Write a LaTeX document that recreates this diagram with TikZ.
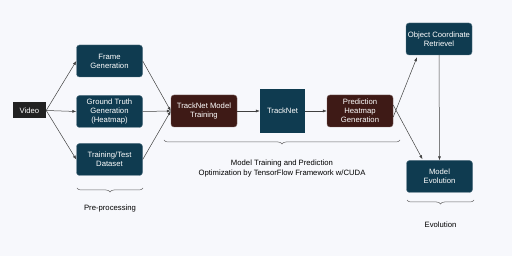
\documentclass[tikz,border=0pt]{standalone}
\usepackage{fontspec}
\setmainfont{Liberation Sans}
\usetikzlibrary{arrows.meta,decorations.pathreplacing}
\definecolor{bg}{HTML}{F7F8FC}
\definecolor{teal}{HTML}{0F3B50}
\definecolor{brown}{HTML}{3E1A16}
\definecolor{vid}{HTML}{222222}
\begin{document}
\begin{tikzpicture}[x=1pt,y=-1pt,
  txt/.style={font=\fontsize{7.7}{9.2}\selectfont,text=white,align=center,inner sep=0pt},
  tbox/.style={txt,fill=teal,draw=teal!70!white,line width=0.4pt,rounded corners=3pt,minimum width=66pt,minimum height=32pt},
  bbox/.style={txt,fill=brown,draw=brown!70!white,line width=0.4pt,rounded corners=3pt,minimum width=66pt,minimum height=32pt},
  conn/.style={draw=black!75,line width=0.5pt,-{Latex[length=4pt,width=3pt]}},
  brc/.style={draw=black!60,line width=0.5pt,decorate,decoration={brace,mirror,amplitude=4pt}},
  lab/.style={font=\fontsize{7.7}{9.2}\selectfont,align=center,inner sep=0pt}]
\fill[bg] (0,0) rectangle (512,256);
\useasboundingbox (0,0) rectangle (512,256);
\node[txt,fill=vid,minimum width=33pt,minimum height=16pt] (video) at (29.5,110.5) {Video};
\node[tbox] (frame) at (109.5,61) {Frame\\Generation};
\node[tbox] (gt) at (109.5,111.5) {Ground Truth\\Generation\\(Heatmap)};
\node[tbox] (ds) at (109.5,159.5) {Training/Test\\Dataset};
\node[bbox] (tmt) at (204,111) {TrackNet Model\\Training};
\node[txt,fill=teal,minimum width=45pt,minimum height=44pt] (tn) at (282.5,111) {TrackNet};
\node[bbox] (phg) at (360,111) {Prediction\\Heatmap\\Generation};
\node[tbox] (ocr) at (439,39) {Object Coordinate\\Retrievel};
\node[tbox] (me) at (439.5,176.5) {Model\\Evolution};
\draw[conn] (video.east) -- (frame.west);
\draw[conn] (video.east) -- (gt.west);
\draw[conn] (video.east) -- (ds.west);
\draw[conn] (frame.east) -- (tmt.west);
\draw[conn] (gt.east) -- (tmt.west);
\draw[conn] (ds.east) -- (tmt.west);
\draw[conn] (tmt) -- (tn);
\draw[conn] (tn) -- (phg);
\draw[conn] ([yshift=-6pt]phg.east) -- ([xshift=-22pt,yshift=-2pt]ocr.south);
\draw[conn] ([yshift=6pt]phg.east) -- ([xshift=-17pt,yshift=1pt]me.north);
\draw[conn] (ocr.south) -- (me.north);
\coordinate (b1l) at (77,188); \coordinate (b1r) at (143,188);
\draw[brc] (b1l) -- (b1r) node[lab,midway,below=17pt] (l1) {Pre-processing};
\coordinate (b2l) at (164,140); \coordinate (b2r) at (400,140);
\draw[brc] (b2l) -- (b2r) node[lab,midway,below=20pt] (l2) {Model Training and Prediction\\Optimization by TensorFlow Framework w/CUDA};
\coordinate (b3l) at (407,200); \coordinate (b3r) at (474,200);
\draw[brc] (b3l) -- (b3r) node[lab,midway,below=22pt] (l3) {Evolution};
\end{tikzpicture}
\end{document}
